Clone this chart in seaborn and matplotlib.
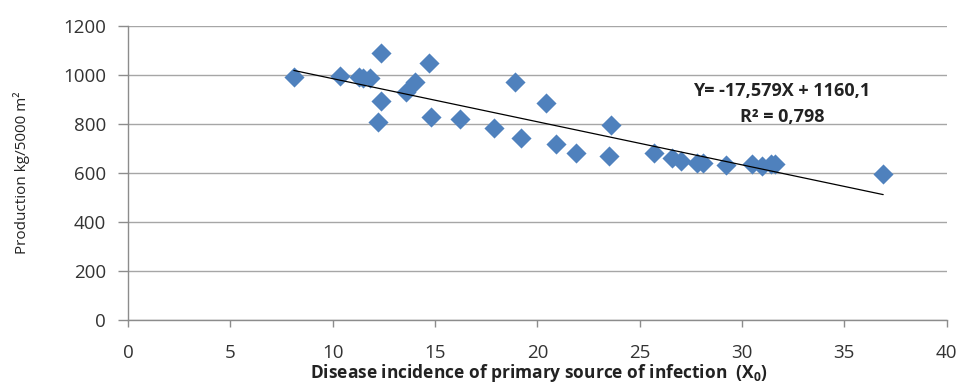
import numpy as np
import pandas as pd
import seaborn as sns
import matplotlib.pyplot as plt

# disease incidence (X0) and production values
incidence = [8.1, 10.35, 11.3, 11.5, 11.8, 12.35, 12.35, 12.2, 13.6, 14.0, 14.7, 14.8,
             16.2, 17.9, 18.9, 19.2, 20.4, 20.9, 21.9, 23.6, 23.5, 25.7, 26.6, 27.0,
             27.8, 28.1, 29.2, 30.5, 31.0, 31.4, 31.6, 36.9]
production = [990, 996, 992, 988, 986, 1090, 892, 810, 930, 970, 1049, 830,
              822, 784, 971, 745, 884, 720, 680, 794, 670, 680, 660, 648,
              640, 640, 632, 636, 630, 636, 636, 596]

equation_text = "Y= -17,579X + 1160,1"
r2_text = "R² = 0,798"
x_ticks = [0, 5, 10, 15, 20, 25, 30, 35, 40]
y_ticks = [0, 200, 400, 600, 800, 1000, 1200]

df = pd.DataFrame({"x": incidence, "y": production})

sns.set_theme(style="white")
plt.rcParams['font.family'] = ['Open Sans', 'DejaVu Sans']
plt.rcParams['mathtext.fontset'] = 'custom'
plt.rcParams['mathtext.rm'] = 'Open Sans'
plt.rcParams['mathtext.bf'] = 'Open Sans:bold'

fig = plt.figure(figsize=(9.63, 3.83), dpi=100)
ax = fig.add_axes([0.133, 0.1645, 0.85, 0.7675])

sns.regplot(data=df, x="x", y="y", ax=ax, ci=None, marker="D",
            scatter_kws={"s": 105, "color": "#4F81BD", "linewidths": 0, "zorder": 3, "alpha": 1},
            line_kws={"color": "black", "linewidth": 0.9, "zorder": 4})

ax.set_xlim(0, 40)
ax.set_ylim(0, 1200)
ax.set_xticks(x_ticks)
ax.set_yticks(y_ticks)
ax.tick_params(axis="both", labelsize=13.5, colors="#8c8c8c", labelcolor="#333333")
ax.tick_params(axis="x", length=5, width=1, direction="out", bottom=True, pad=12)
ax.tick_params(axis="y", length=7, width=1, direction="out", left=True, pad=9)
ax.yaxis.grid(True, color="#a6a6a6", linewidth=1)
ax.set_axisbelow(True)
for s in ["top", "right"]:
    ax.spines[s].set_visible(False)
for s in ["left", "bottom"]:
    ax.spines[s].set_color("#8c8c8c")
    ax.spines[s].set_linewidth(1)

ax.set_xlabel("Disease incidence of primary source of infection  (X$\\mathbf{_0}$)",
              fontsize=12.5, fontweight="bold", color="#222222")
ax.xaxis.set_label_coords(0.502, -0.143)
ax.set_ylabel("Production kg/5000 m²", fontsize=11, color="#222222")
ax.yaxis.set_label_coords(-0.12, 0.5)

ax.text(31.95, 935, equation_text, ha="center", va="center", fontsize=13, fontweight="bold", color="#222222")
ax.text(31.95, 830, r2_text, ha="center", va="center", fontsize=13, fontweight="bold", color="#222222")

fig.savefig("out.png", dpi=100, facecolor="white")
